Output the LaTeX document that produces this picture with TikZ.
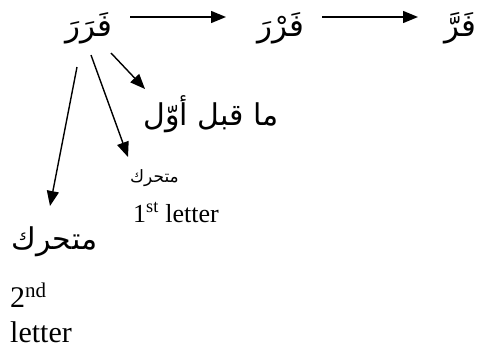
\documentclass[tikz,border=0pt]{standalone}
\usepackage{fontspec}
\setmainfont{Liberation Serif}
\newfontfamily\arabicfont[Script=Arabic]{DejaVu Sans}
\TeXXeTstate=1
\usetikzlibrary{arrows.meta}
\begin{document}
\begin{tikzpicture}[x=1pt,y=-1pt,
  arr/.style={line width=1.4pt,-{Triangle[length=15pt,width=12pt]}},
  ar/.style={inner sep=0pt,font=\arabicfont},
  lat/.style={inner sep=0pt,anchor=base west}]
\useasboundingbox (0,0) rectangle (478,351);
\node[ar] (w1) at (88.5,28) {\fontsize{31}{38}\selectfont\beginR فَرَرَ\endR};
\node[ar] (w2) at (280.5,28) {\fontsize{31}{38}\selectfont\beginR فَرْرَ\endR};
\node[ar,anchor=east] (w3) at (476.5,28) {\fontsize{31}{38}\selectfont\beginR فَرَّ\endR};
\node[ar] (qabl) at (211,114) {\fontsize{30}{36}\selectfont\beginR ما قبل أوّل\endR};
\node[ar] (m1) at (154.5,178) {\fontsize{17}{20}\selectfont\beginR متحرك\endR};
\node[ar] (m2) at (54.5,242) {\fontsize{30}{36}\selectfont\beginR متحرك\endR};
\node[lat] (l1) at (133,222) {\fontsize{26}{30}\selectfont 1\textsuperscript{st} letter};
\node[lat] (n2) at (10,307) {\fontsize{30}{34}\selectfont 2\textsuperscript{nd}};
\node[lat] (l2) at (10,342) {\fontsize{30}{34}\selectfont letter};
\draw[arr] ([shift={(41.5,-11)}]w1.center) -- ([shift={(-54.5,-11)}]w2.center);
\draw[arr] ([shift={(41.5,-11)}]w2.center) -- ([shift={(-58.5,-11)}]w3.east);
\draw[arr] ([shift={(22.5,25)}]w1.center) -- ([shift={(-66,-25)}]qabl.center);
\draw[arr] ([shift={(2.5,27)}]w1.center) -- ([shift={(-26.5,-21)}]m1.center);
\draw[arr] ([shift={(-11.5,39)}]w1.center) -- ([shift={(-4.5,-36)}]m2.center);
\end{tikzpicture}
\end{document}
